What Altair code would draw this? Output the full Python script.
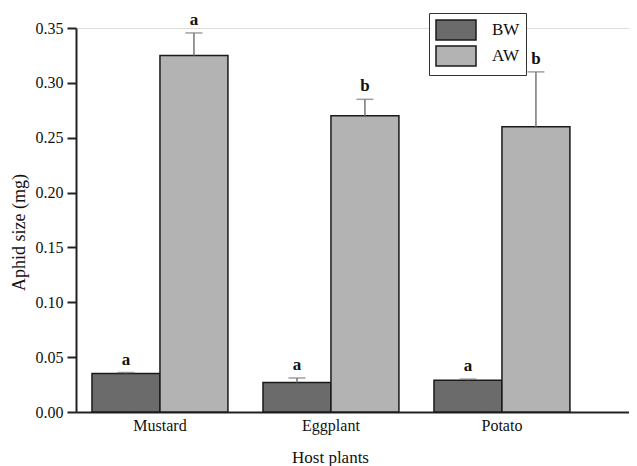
import altair as alt
import pandas as pd

plants = ["Mustard", "Eggplant", "Potato"]
groups = ["BW", "AW"]
bw_mean = [0.035, 0.027, 0.029]
bw_err_top = [0.036, 0.031, 0.030]
aw_mean = [0.325, 0.270, 0.260]
aw_err_top = [0.3455, 0.285, 0.310]
bw_letters = ["a", "a", "a"]
aw_letters = ["a", "b", "b"]
y_ticks = [0.0, 0.05, 0.10, 0.15, 0.20, 0.25, 0.30, 0.35]

rows = []
for i, p in enumerate(plants):
    rows.append({"plant": p, "group": "BW", "mean": bw_mean[i], "top": bw_err_top[i], "letter": bw_letters[i]})
    rows.append({"plant": p, "group": "AW", "mean": aw_mean[i], "top": aw_err_top[i], "letter": aw_letters[i]})
df = pd.DataFrame(rows)

FONT = "Liberation Serif"

x_enc = alt.X(
    "plant:N",
    sort=plants,
    scale=alt.Scale(paddingInner=0.205, paddingOuter=0.2195, align=0.213),
    axis=alt.Axis(
        title="Host plants", labelAngle=0, ticks=False, labelPadding=5,
        labelFont=FONT, labelFontSize=16, labelColor="#111",
        titleFont=FONT, titleFontSize=17, titleFontWeight="normal", titleColor="#111",
        titlePadding=16, titleX=254,
        domainColor="#222", domainWidth=2,
    ),
)
xo = alt.XOffset("group:N", sort=groups, scale=alt.Scale(paddingInner=0, paddingOuter=0))
y_scale = alt.Scale(domain=[0, 0.35], nice=False)

bars = alt.Chart(df).mark_bar(stroke="#1a1a1a", strokeWidth=1.5).encode(
    x=x_enc,
    xOffset=xo,
    y=alt.Y(
        "mean:Q", scale=y_scale,
        axis=alt.Axis(
            title="Aphid size (mg)", values=y_ticks, format=".2f", grid=False,
            tickSize=9, tickColor="#222", tickWidth=2, labelPadding=4,
            labelFont=FONT, labelFontSize=16, labelColor="#111",
            titleFont=FONT, titleFontSize=18, titleFontWeight="normal", titleColor="#111",
            titlePadding=7, titleY=204,
            domainColor="#222", domainWidth=2,
        ),
    ),
    color=alt.Color(
        "group:N", sort=groups,
        scale=alt.Scale(domain=groups, range=["#6b6b6b", "#b3b3b3"]),
        legend=alt.Legend(
            title=None, orient="none", legendX=353, legendY=-15,
            strokeColor="#333", padding=6, fillColor="white",
            symbolType="M-1,-1H3V1H-1Z", symbolSize=400,
            symbolStrokeColor="#1a1a1a", symbolStrokeWidth=1.5,
            labelFont=FONT, labelFontSize=17, labelColor="#111", labelOffset=35,
            rowPadding=0,
        ),
    ),
)

err = alt.Chart(df).mark_rule(color="#777", strokeWidth=1.5).encode(
    x=alt.X("plant:N", sort=plants), xOffset=xo,
    y=alt.Y("mean:Q", scale=y_scale), y2="top:Q",
)
caps = alt.Chart(df).mark_tick(color="#777", thickness=1.5, size=17, orient="horizontal").encode(
    x=alt.X("plant:N", sort=plants), xOffset=xo,
    y=alt.Y("top:Q", scale=y_scale),
)
letters = alt.Chart(df).mark_text(
    font=FONT, fontSize=17, fontWeight="bold", color="#111", dy=-4, baseline="bottom"
).encode(
    x=alt.X("plant:N", sort=plants), xOffset=xo,
    y=alt.Y("top:Q", scale=y_scale),
    text="letter:N",
)

chart = alt.layer(bars, err, caps, letters).properties(
    width=553, height=384,
    autosize=alt.AutoSizeParams(type="none"),
    padding={"left": 68, "top": 20, "right": 0, "bottom": 58},
).configure_view(stroke=None).configure(background="white")

chart.save("out.html", embed_options={"renderer": "svg", "actions": False})
